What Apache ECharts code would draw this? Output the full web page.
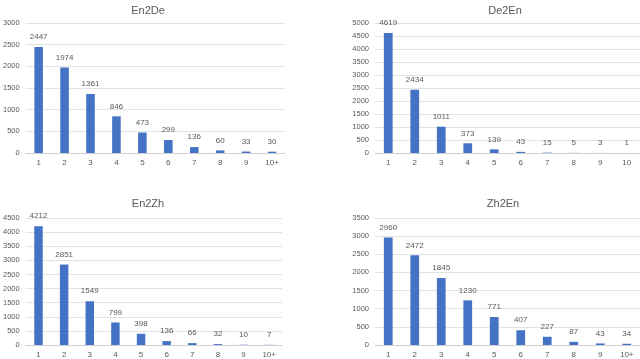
<!DOCTYPE html>
<html>
<head>
<meta charset="utf-8">
<script src="https://cdn.jsdelivr.net/npm/echarts@6/dist/echarts.min.js"></script>
<style>
  html, body { margin: 0; padding: 0; background: #fff; }
  #main { width: 640px; height: 359px; }
</style>
</head>
<body>
<div id="main"></div>
<script>
// data
var catsPlus = ['1', '2', '3', '4', '5', '6', '7', '8', '9', '10+'];
var catsTen = ['1', '2', '3', '4', '5', '6', '7', '8', '9', '10'];
var en2de = [2447, 1974, 1361, 846, 473, 299, 136, 60, 33, 30];
var de2en = [4619, 2434, 1011, 373, 139, 43, 15, 5, 3, 1];
var en2zh = [4212, 2851, 1549, 799, 398, 136, 66, 32, 10, 7];
var zh2en = [2960, 2472, 1845, 1230, 771, 407, 227, 87, 43, 34];
var titles = ['En2De', 'De2En', 'En2Zh', 'Zh2En'];
var yMax = [3000, 5000, 4500, 3500];

var panels = [
    { cats: catsPlus, data: en2de, left: 21, top: 23, width: 264, tx: 143, ty: 0 },
    { cats: catsTen, data: de2en, left: 375, top: 23, width: 265, tx: 500, ty: 0 },
    { cats: catsPlus, data: en2zh, left: 21, top: 218, width: 261, tx: 143, ty: 193 },
    { cats: catsPlus, data: zh2en, left: 375, top: 218, width: 265, tx: 498, ty: 193 }
];

var textColor = '#595959';
var font = 'Liberation Sans';

var option = {
    animation: false,
    backgroundColor: '#fff',
    title: [],
    grid: [],
    xAxis: [],
    yAxis: [],
    series: []
};

for (let i = 0; i < panels.length; ++i) {
    let p = panels[i];
    option.title.push({
        text: titles[i],
        left: p.tx,
        top: p.ty,
        textAlign: 'center',
        textStyle: { fontSize: 11, fontWeight: 'normal', color: textColor, fontFamily: font }
    });
    option.grid.push({ left: p.left, top: p.top, width: p.width, height: 130 });
    option.xAxis.push({
        type: 'category',
        gridIndex: i,
        data: p.cats,
        axisTick: { show: false },
        axisLine: { lineStyle: { color: '#d0d0d0' } },
        axisLabel: { fontSize: 8, color: textColor, fontFamily: font, margin: 6 }
    });
    option.yAxis.push({
        type: 'value',
        gridIndex: i,
        min: 0,
        max: yMax[i],
        interval: 500,
        axisLine: { show: false },
        axisTick: { show: false },
        splitLine: { lineStyle: { color: '#e3e3e3' } },
        axisLabel: {
            fontSize: 7.5, color: textColor, fontFamily: font, margin: 6,
            formatter: function (v) { return String(v); }
        }
    });
    option.series.push({
        type: 'bar',
        xAxisIndex: i,
        yAxisIndex: i,
        data: p.data,
        barWidth: '33%',
        itemStyle: { color: '#4472C4' },
        label: {
            show: true,
            position: 'top',
            distance: 6,
            fontSize: 8,
            color: textColor,
            fontFamily: font
        }
    });
}

var myChart = echarts.init(document.getElementById('main'));
myChart.setOption(option);
</script>
</body>
</html>
